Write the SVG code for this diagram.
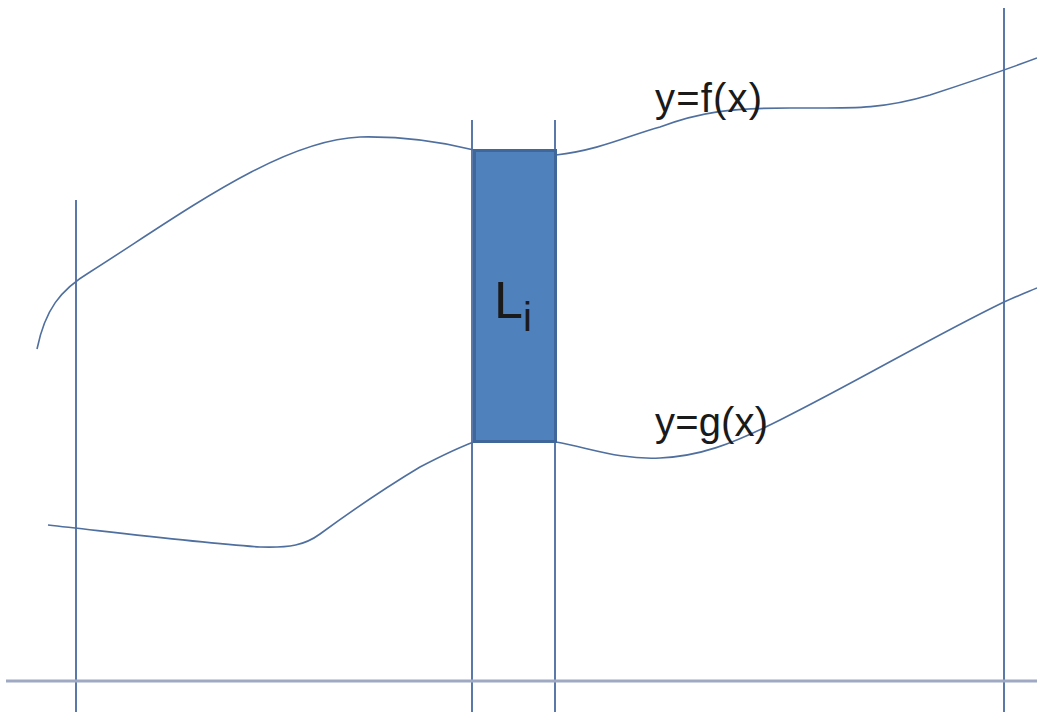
<svg xmlns="http://www.w3.org/2000/svg" width="1037" height="712" viewBox="0 0 1037 712">
<style>
.v{stroke:#5a78a8;stroke-width:2;fill:none}
.c{stroke:#4f6f9f;stroke-width:1.6;fill:none}
.t{font-family:"Liberation Sans",Arial,sans-serif;fill:#1a1a1a}
</style>
<rect width="1037" height="712" fill="#ffffff"/>
<g id="grid">
<line class="v" x1="76" y1="200" x2="76" y2="712"/>
<line class="v" x1="472" y1="120" x2="472" y2="712"/>
<line class="v" x1="555" y1="120" x2="555" y2="712"/>
<line class="v" x1="1004" y1="8" x2="1004" y2="712"/>
<line x1="6" y1="681" x2="1037" y2="681" stroke="#9fa9c3" stroke-width="3"/>
</g>
<g id="connectors">
<path class="c" d="M37,349 C45,310 60,290 90,272 C180,215 280,140 360,137 C410,136 450,144 474,150"/>
<path class="c" d="M556,155 C600,150 630,135 660,127 C700,112 730,108 790,108 C850,108 880,110 930,95 C970,82 1005,70 1037,58"/>
<path class="c" d="M48,525 C120,533 200,543 260,547 C290,548 305,545 320,534 C350,512 390,485 420,467 C445,454 460,447 474,442"/>
<path class="c" d="M556,442 C590,448 620,460 660,458 C700,456 730,445 780,420 C860,380 930,338 1004,302 C1015,297 1025,293 1037,288"/>
</g>
<g id="strip">
<rect x="474.5" y="150.5" width="81" height="291" fill="#4f81bd" stroke="#3f679a" stroke-width="3"/>
<text class="t" x="494" y="318" font-size="52">L<tspan font-size="40" dy="13">i</tspan></text>
</g>
<g id="label-f"><text class="t" x="655" y="112" font-size="40" textLength="107" lengthAdjust="spacing">y=f(x)</text></g>
<g id="label-g"><text class="t" x="655" y="436" font-size="40" textLength="113" lengthAdjust="spacing">y=g(x)</text></g>
</svg>
